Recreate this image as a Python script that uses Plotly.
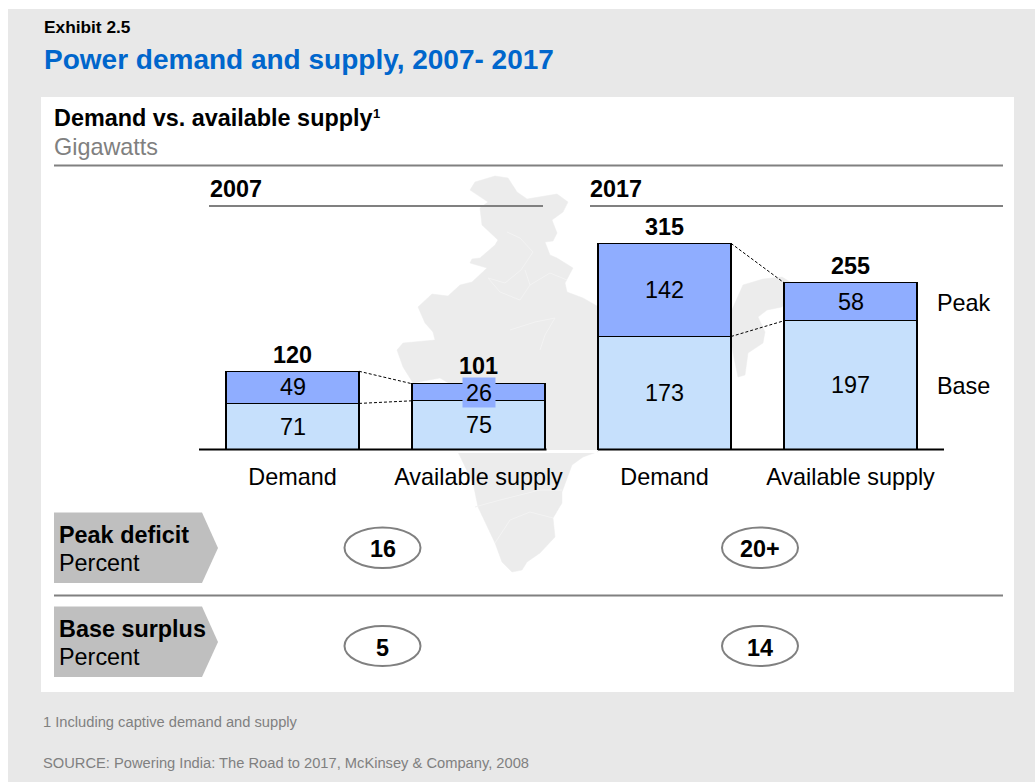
import plotly.graph_objects as go

# ---------- data ----------
categories = ["Demand", "Available supply", "Demand", "Available supply"]
positions = [0, 1, 2, 3]
base_values = [71, 75, 173, 197]
peak_values = [49, 26, 142, 58]
totals = [120, 101, 315, 255]
peak_deficit = ["16", "20+"]
base_surplus = ["5", "14"]
year_labels = ["2007", "2017"]

# India silhouette (decorative background, pixel outline)
india_outline = [(470,190),(475,182),(495,176),(508,178),(517,192),(527,199),(557,194),(568,202),(563,212),
    (552,220),(557,233),(553,241),(545,242),(550,255),(557,258),(573,268),(565,283),(567,292),(583,298),(597,306),
    (640,315),(700,330),(731,312),(743,285),(763,279),(782,277),(795,285),(782,307),(767,310),(758,317),(765,332),
    (763,343),(748,353),(745,375),(738,377),(733,353),(731,340),(700,390),(640,420),(597,452),(583,457),(572,465),
    (562,492),(562,503),(553,518),(555,537),(540,553),(527,562),(522,570),(512,572),(502,562),(495,543),(478,507),
    (473,483),(458,452),(450,420),(452,385),(440,378),(413,383),(403,367),(397,350),(403,343),(435,340),(433,332),
    (425,323),(418,307),(432,294),(448,296),(460,285),(472,282),(487,268),(470,263),(472,259),(480,258),(495,245),
    (498,240),(482,225),(480,208),(488,202)]
india_inner = [[(507,232),(520,238),(533,252),(521,270),(505,283),(488,278)],
               [(488,278),(500,292),(520,300),(530,285),(525,270)],
               [(530,285),(550,273),(567,280)],
               [(510,330),(535,322),(555,318),(545,335),(540,350)],
               [(475,507),(500,500),(520,495),(540,490),(562,490)],
               [(495,543),(510,520),(530,512),(553,518)]]

W, H = 1035, 782
PL, PR, PT, PB = 199, 944, 170, 450
FS = 23.4
def px(x): return (x - PL) / (PR - PL)
def py(y): return 1 - (y - PT) / (PB - PT)
def rect(x0, y0, x1, y1, fill):
    return dict(type="rect", xref="paper", yref="paper", x0=px(x0), x1=px(x1), y0=py(y0), y1=py(y1),
                fillcolor=fill, line_width=0, layer="below")
def rule(x0, x1, y, color="#808080", width=2):
    return dict(type="line", xref="paper", yref="paper", x0=px(x0), x1=px(x1), y0=py(y), y1=py(y),
                line=dict(color=color, width=width), layer="above")
def oval(x0, y0, x1, y1):
    return dict(type="circle", xref="paper", yref="paper", x0=px(x0), x1=px(x1), y0=py(y0), y1=py(y1),
                line=dict(color="#808080", width=2), fillcolor="rgba(0,0,0,0)", layer="above")
def path(points, close=True, **kw):
    d = "M " + " L ".join(f"{px(x):.5f},{py(y):.5f}" for x, y in points) + (" Z" if close else "")
    return dict(type="path", path=d, xref="paper", yref="paper", layer="below", **kw)
def text(x, y, s, size=FS, color="black", bold=False, anchor="left"):
    return dict(xref="paper", yref="paper", x=px(x - 1 if anchor == "left" else x), y=py(y - 0.5),
                text=f"<b>{s}</b>" if bold else s, showarrow=False,
                xanchor=anchor, yanchor="middle", align=anchor, borderpad=0,
                font=dict(size=size, color=color, family="Liberation Sans, Arial, sans-serif"))

BAR_W = 133 / 186
PEAK, BASE = "#8FADFF", "#C6E0FC"
FONT = "Liberation Sans, Arial, sans-serif"
EDGE = dict(color="black", width=1.25)

fig = go.Figure()
fig.add_bar(x=positions, y=base_values, width=BAR_W, marker=dict(color=BASE, line=EDGE), name="Base")
fig.add_bar(x=positions, y=peak_values, width=BAR_W, marker=dict(color=PEAK, line=EDGE), name="Peak")

# dashed connectors between demand and supply stacks
for a, b in ((0, 1), (2, 3)):
    xs = [positions[a] + BAR_W / 2, positions[b] - BAR_W / 2]
    for ys in ((base_values[a], base_values[b]), (totals[a], totals[b])):
        fig.add_scatter(x=xs, y=list(ys), mode="lines", line=dict(color="black", width=1, dash="3px,2px"),
                        hoverinfo="skip")

annotations = []
for i, p in enumerate(positions):
    annotations.append(dict(x=p, y=base_values[i] / 2, xref="x", yref="y", text=str(base_values[i]), showarrow=False,
                            yanchor="middle", yshift=0, font=dict(size=FS, color="black", family=FONT)))
    ann = dict(x=p, y=base_values[i] + peak_values[i] / 2, xref="x", yref="y", text=str(peak_values[i]),
               showarrow=False, yanchor="middle", yshift=0, font=dict(size=FS, color="black", family=FONT))
    if peak_values[i] == 26:
        ann.update(bgcolor=PEAK, width=28, height=25, borderpad=2, yshift=-0.5)
    annotations.append(ann)
    annotations.append(dict(x=p, y=totals[i], xref="x", yref="y", text=f"<b>{totals[i]}</b>", showarrow=False,
                            yanchor="middle", yshift=17.5 if totals[i] == 101 else 16.5,
                            font=dict(size=FS, color="black", family=FONT)))

annotations += [
    text(44, 27, "Exhibit 2.5", 17.3, "black", True),
    text(44, 60, "Power demand and supply, 2007- 2017", 28, "#0066CC", True),
    text(54, 118, "Demand vs. available supply", 23.4, "black", True),
    text(373, 114, "1", 13, "black", True),
    text(54, 147, "Gigawatts", FS, "#808080"),
    text(210, 189, year_labels[0], FS, "black", True),
    text(590, 189, year_labels[1], FS, "black", True),
    text(937, 303, "Peak"),
    text(937, 386, "Base"),
    text(59, 535, "Peak deficit", FS, "black", True),
    text(59, 563, "Percent"),
    text(59, 629, "Base surplus", FS, "black", True),
    text(59, 657, "Percent"),
    text(382.5, 549, peak_deficit[0], FS, "black", True, "center"),
    text(760, 549, peak_deficit[1], FS, "black", True, "center"),
    text(382.5, 648, base_surplus[0], FS, "black", True, "center"),
    text(760, 648, base_surplus[1], FS, "black", True, "center"),
    text(43, 722, "1 Including captive demand and supply", 14.7, "#808080"),
    text(43, 763, "SOURCE: Powering India: The Road to 2017, McKinsey &amp; Company, 2008", 14.7, "#808080"),
]

shapes = [
    rect(8, 9, 1035, 782, "#E8E8E8"),
    rect(41, 97, 1014, 692, "white"),
    path(india_outline, fillcolor="#ECECEC", line=dict(color="#ECECEC", width=0.5)),
]
shapes += [path(p, close=False, line=dict(color="#F3F3F3", width=1)) for p in india_inner]
shapes += [
    rect(450, 450, 597, 453, "white"),
    rule(54, 1003, 165.5),
    rule(209, 543, 206),
    rule(590, 1003, 206),
    rule(54, 1003, 595.5),
    rule(199, 546.5, 449.5, "black", 2),
    rule(598, 944, 449.5, "black", 2),
    path([(54, 512.5), (202, 512.5), (218, 548), (202, 583), (54, 583)], fillcolor="#BFBFBF", line_width=0),
    path([(54, 606.5), (202, 606.5), (218, 642), (202, 677), (54, 677)], fillcolor="#BFBFBF", line_width=0),
    oval(344.5, 527.5, 420.5, 568),
    oval(722, 527.5, 798, 568),
    oval(344.5, 626, 420.5, 666),
    oval(722, 626, 798, 666),
]

UNIT = 186
fig.update_layout(
    width=W, height=H, barmode="stack", showlegend=False, hovermode=False,
    margin=dict(l=PL, r=W - PR, t=PT, b=H - PB, pad=0),
    paper_bgcolor="white", plot_bgcolor="rgba(0,0,0,0)",
    xaxis=dict(range=[(PL - 292.5) / UNIT, (PR - 292.5) / UNIT], tickmode="array", tickvals=positions, ticktext=categories,
               tickfont=dict(size=FS, color="black", family=FONT), showgrid=False, zeroline=False, showline=False,
               ticks="outside", ticklen=6, tickcolor="rgba(0,0,0,0)", automargin=False),
    yaxis=dict(range=[0, (PB - PT) / 0.656], visible=False),
    shapes=shapes, annotations=annotations,
)
fig.write_html("out.html", config=dict(displayModeBar=False), post_script="document.body.style.margin='0';")
